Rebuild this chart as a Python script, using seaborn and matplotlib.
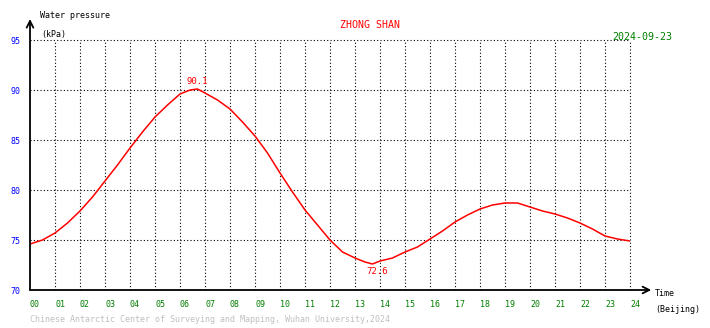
import numpy as np
import pandas as pd
import matplotlib
matplotlib.use("Agg")
import matplotlib.pyplot as plt
import seaborn as sns

# ---- data ----
hours = [0.0, 0.5, 1.0, 1.5, 2.0, 2.5, 3.0, 3.5, 4.0, 4.5, 5.0, 5.5, 6.0, 6.4, 6.7,
         7.0, 7.5, 8.0, 8.5, 9.0, 9.5, 10.0, 10.5, 11.0, 11.5, 12.0, 12.5, 13.0,
         13.4, 13.7, 14.0, 14.5, 15.0, 15.5, 16.0, 16.5, 17.0, 17.5, 18.0, 18.5,
         19.0, 19.5, 20.0, 20.5, 21.0, 21.5, 22.0, 22.5, 23.0, 23.5, 24.0]
pressure = [74.6, 75.0, 75.7, 76.7, 77.9, 79.3, 80.9, 82.5, 84.2, 85.8, 87.3, 88.5, 89.6, 90.0, 90.1,
            89.7, 89.0, 88.1, 86.8, 85.4, 83.7, 81.7, 79.8, 78.0, 76.5, 75.0, 73.8, 73.2,
            72.8, 72.6, 72.9, 73.2, 73.8, 74.3, 75.1, 75.9, 76.8, 77.5, 78.1, 78.5,
            78.7, 78.7, 78.3, 77.9, 77.6, 77.2, 76.7, 76.1, 75.4, 75.1, 74.9]
xtick_labels = [f"{h:02d}" for h in range(25)]
ytick_values = [70, 75, 80, 85, 90, 95]
max_label = ("90.1", 6.7, 90.1)
min_label = ("72.6", 13.9, 72.6)

df = pd.DataFrame({"hour": hours, "kPa": pressure})

sns.set_style("white")
plt.rcParams['font.family'] = ['DejaVu Sans Mono', 'DejaVu Sans']

W, H = 710, 328
fig = plt.figure(figsize=(W / 100, H / 100), dpi=100)
ax = fig.add_axes([30 / W, 1 - 290 / H, 600 / W, 250 / H])

sns.lineplot(data=df, x="hour", y="kPa", ax=ax, color="#ff0000", linewidth=1.1)

ax.set_xlim(0, 24)
ax.set_ylim(70, 95)
ax.set_xticks(range(25))
ax.set_xticklabels(xtick_labels)
ax.set_yticks(ytick_values)
ax.set_yticklabels([str(v) for v in ytick_values])
ax.tick_params(axis="x", length=0, pad=7, labelsize=6, labelcolor="#008000")
ax.tick_params(axis="y", length=0, pad=7, labelsize=6, labelcolor="#0000ff")
for lab in ax.get_xticklabels():
    lab.set_ha("left")
ax.set_xlabel("")
ax.set_ylabel("")

# dotted grid
for h in range(1, 25):
    ax.axvline(h, color="black", lw=0.8, ls=(0, (1, 2)), zorder=0, clip_on=False)
for v in [75, 80, 85, 90, 95]:
    ax.axhline(v, color="black", lw=0.8, ls=(0, (1, 2)), zorder=0, clip_on=False)

for s in ["top", "right", "left", "bottom"]:
    ax.spines[s].set_visible(False)

# axes with arrows
ax.annotate("", xy=(0, 97.1), xytext=(0, 70), xycoords="data",
            arrowprops=dict(arrowstyle="->", lw=1.3, color="black",
                            shrinkA=0, shrinkB=0, mutation_scale=12),
            annotation_clip=False)
ax.annotate("", xy=(24.85, 70), xytext=(0, 70), xycoords="data",
            arrowprops=dict(arrowstyle="->", lw=1.3, color="black",
                            shrinkA=0, shrinkB=0, mutation_scale=12),
            annotation_clip=False)

# extreme labels
ax.text(max_label[1], max_label[2] + 0.35, max_label[0], color="#ff0000",
        fontsize=6.5, ha="center", va="bottom")
ax.text(min_label[1], min_label[2] - 0.3, min_label[0], color="#ff0000",
        fontsize=6.5, ha="center", va="top")

def ptext(x, y, s, **kw):
    fig.text(x / W, 1 - y / H, s, **kw)

ptext(40, 16, "Water pressure", fontsize=6, color="black", va="center", ha="left")
ptext(41, 34, "(kPa)", fontsize=6, color="black", va="center", ha="left")
ptext(370, 25, "ZHONG SHAN", fontsize=7.2, color="#ff0000", va="center", ha="center")
ptext(612, 37, "2024-09-23", fontsize=7.2, color="#008000", va="center", ha="left")
ptext(655, 294, "Time", fontsize=6, color="black", va="center", ha="left")
ptext(655, 310, "(Beijing)", fontsize=6, color="black", va="center", ha="left")
ptext(30, 320, "Chinese Antarctic Center of Surveying and Mapping, Wuhan University,2024",
      fontsize=6, color="#c0c0c0", va="center", ha="left")

fig.savefig("out.png", dpi=100, facecolor="white")
